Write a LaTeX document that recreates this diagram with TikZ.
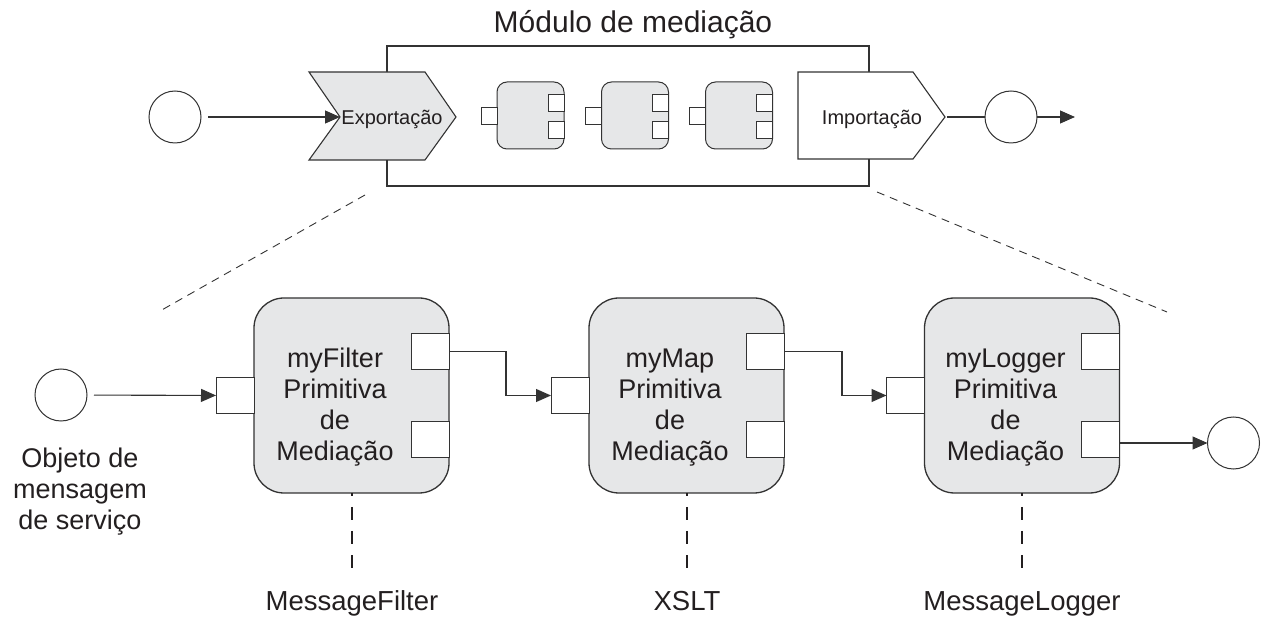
\documentclass[tikz,border=0pt]{standalone}
\usepackage{fontspec}
\setmainfont{Liberation Sans}
\usetikzlibrary{arrows.meta,calc}
\definecolor{ln}{HTML}{333333}
\definecolor{tx}{HTML}{231F20}
\definecolor{gfill}{HTML}{E6E7E8}
\begin{document}
\begin{tikzpicture}[x=1pt,y=-1pt,
  every node/.style={inner sep=0pt,outer sep=0pt,text=tx},
  conn/.style={draw=ln,line width=1.1pt,-{Triangle[length=15pt,width=13pt]}},
  plainline/.style={draw=ln,line width=1.1pt},
  evt/.style={circle,draw=ln,line width=1pt,minimum size=52pt,fill=white},
  comp/.style={draw=ln,line width=1.3pt,fill=gfill,rounded corners=30pt,minimum width=195pt,minimum height=195pt},
  scomp/.style={draw=ln,line width=1pt,fill=gfill,rounded corners=10pt,minimum width=67pt,minimum height=67pt},
  bport/.style={draw=ln,line width=1pt,fill=white,minimum width=38pt,minimum height=36pt},
  sport/.style={draw=ln,line width=0.9pt,fill=white,minimum width=16pt,minimum height=17pt},
  modbox/.style={draw=ln,line width=1.1pt,minimum width=482pt,minimum height=140pt},
  zoomline/.style={draw=ln,line width=0.9pt,dash pattern=on 8pt off 6pt},
  vdash/.style={draw=tx,line width=2pt,dash pattern=on 13pt off 11pt,dash phase=10pt},
  ctext/.style={font=\fontsize{27}{31}\selectfont,align=center},
  ltext/.style={font=\fontsize{27.5}{31}\selectfont,anchor=base},
  stext/.style={font=\fontsize{20}{24}\selectfont}
]
\useasboundingbox (0,0) rectangle (1262,617);

% ---------- top: mediation module ----------
\node[font=\fontsize{30}{34}\selectfont,anchor=base] (title) at (633,33) {Módulo de mediação};
\node[modbox] (mod) at (628,116) {};

% export (chevron)
\draw[draw=ln,line width=1.1pt,fill=gfill] (309,72) -- (425,72) -- (456,117) -- (425,160) -- (309,160) -- (340,117) -- cycle;
\coordinate (expIn) at (340,117);
\node[stext] (exp) at (392,119) {Exportação};

% import (pentagon)
\draw[draw=ln,line width=1.1pt,fill=white] (798,72) -- (913,72) -- (945,117) -- (913,159) -- (798,159) -- cycle;
\coordinate (impOut) at (945,117);
\node[stext] (imp) at (872,119) {Importação};

% small components
\foreach \n/\cx in {a/530.5,b/635,c/739}{
  \node[scomp] (s\n) at (\cx,115.5) {};
  \node[sport,anchor=east] (s\n-in) at (s\n.west) {};
  \node[sport,anchor=east] (s\n-o1) at ($(s\n.east)+(0,-13)$) {};
  \node[sport,anchor=east] (s\n-o2) at ($(s\n.east)+(0,14)$) {};
}

% events
\node[evt] (tstart) at (175,117) {};
\node[evt] (tend) at (1011,117) {};
\coordinate (tarrow) at (1075,117);
\draw[conn,shorten <=7pt] (tstart) -- (expIn);
\draw[plainline,shorten <=2pt] (impOut) -- (tend);
\draw[conn] (tend) -- (tarrow);

% zoom lines
\coordinate (zl1) at (365,195);
\coordinate (zl2) at (160,311);
\coordinate (zr1) at (877,192);
\coordinate (zr2) at (1167,312);
\draw[zoomline] (zl1) -- (zl2);
\draw[zoomline] (zr1) -- (zr2);

% ---------- bottom: primitives ----------
\foreach \n/\cx in {f/351.5,m/686.5,l/1022}{
  \node[comp] (\n) at (\cx,395.5) {};
  \node[bport,anchor=east] (\n-in) at (\n.west) {};
  \node[bport,anchor=east] (\n-o1) at ($(\n.east)+(0,-44)$) {};
  \node[bport,anchor=east] (\n-o2) at ($(\n.east)+(0,44)$) {};
}
\node[ctext] (ft) at ($(f)+(-16.5,12)$) {myFilter\\Primitiva\\de\\Mediação};
\node[ctext] (mt) at ($(m)+(-16.5,12)$) {myMap\\Primitiva\\de\\Mediação};
\node[ctext] (lt) at ($(l)+(-16.5,12)$) {myLogger\\Primitiva\\de\\Mediação};

\node[evt] (bstart) at (61,395) {};
\node[evt] (bend) at (1233.5,443) {};
\node[ctext] (obj) at (80,492) {Objeto de\\mensagem\\de serviço};

\draw[conn,shorten <=7pt] (bstart) -- (f-in);
\draw[conn] (f-o1.east) -- ($(f-o1.east)+(57,0)$) |- (m-in.west);
\draw[conn] (m-o1.east) -- ($(m-o1.east)+(58,0)$) |- (l-in.west);
\draw[conn] (l-o2.east |- bend) -- (bend);

% implementation labels
\node[ltext] (lf) at (352,610) {MessageFilter};
\node[ltext] (lm) at (687,610) {XSLT};
\node[ltext] (ll) at (1022,610) {MessageLogger};
\draw[vdash] (f.south) -- ($(f.south)+(0,82)$) coordinate (fe);
\draw[vdash] (m.south) -- ($(m.south)+(0,82)$) coordinate (me);
\draw[vdash] (l.south) -- ($(l.south)+(0,82)$) coordinate (le);
\end{tikzpicture}
\end{document}
